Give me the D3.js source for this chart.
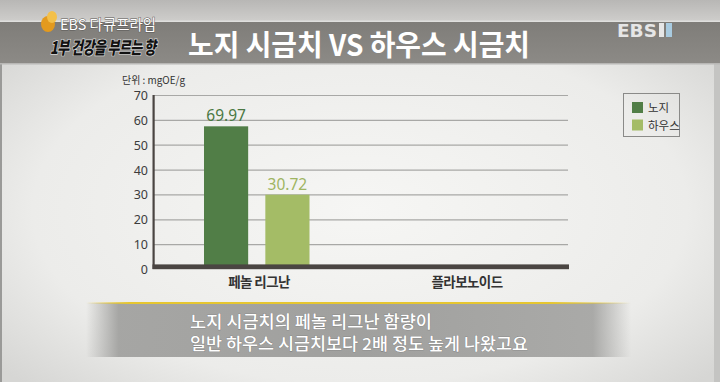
<!DOCTYPE html>
<html><head><meta charset="utf-8">
<script src="https://cdn.jsdelivr.net/npm/d3@7"></script>
<style>body{margin:0;background:#e4e4e2;overflow:hidden}svg{display:block}</style>
</head><body><div id="chart"></div>
<script>
// ---- data ----
const categories = ["페놀 리그난", "플라보노이드"];
const seriesNames = ["노지", "하우스"];
const nojiValues = [57.4, null];     // bar heights as drawn
const houseValues = [29.9, null];
const nojiLabels = ["69.97", ""];
const houseLabels = ["30.72", ""];
const yTicks = [0, 10, 20, 30, 40, 50, 60, 70];
const titleText = "노지 시금치 VS 하우스 시금치";
const unitText = "단위 : mgOE/g";
const subtitleLines = ["노지 시금치의 페놀 리그난 함량이", "일반 하우스 시금치보다 2배 정도 높게 나왔고요"];
const seriesColors = ["#517e47", "#a4bc66"];
const labelColors = ["#4b7843", "#9fb562"];

const W = 720, H = 382;
const svg = d3.select("#chart").append("svg").attr("width", W).attr("height", H);
const defs = svg.append("defs");

// background gradient
const bg = defs.append("radialGradient").attr("id", "bg").attr("cx", "0.5").attr("cy", "0.55").attr("r", "0.65");
bg.append("stop").attr("offset", "0").attr("stop-color", "#f6f6f4");
bg.append("stop").attr("offset", "0.7").attr("stop-color", "#ececea");
bg.append("stop").attr("offset", "1").attr("stop-color", "#d6d6d4");
svg.append("rect").attr("width", W).attr("height", H).attr("fill", "url(#bg)");
svg.append("rect").attr("x", 0).attr("y", 0).attr("width", 2).attr("height", H).attr("fill", "#9a9a98");
svg.append("rect").attr("x", 714).attr("y", 0).attr("width", 6).attr("height", H).attr("fill", "#c4c4c2");

// top strip
const topG = defs.append("linearGradient").attr("id", "topg").attr("x1", 0).attr("x2", 0).attr("y1", 0).attr("y2", 1);
topG.append("stop").attr("offset", 0).attr("stop-color", "#b8b7b5");
topG.append("stop").attr("offset", 1).attr("stop-color", "#cfcecc");
svg.append("rect").attr("x", 0).attr("y", 0).attr("width", W).attr("height", 22).attr("fill", "url(#topg)");
svg.append("rect").attr("x", 0).attr("y", 20.5).attr("width", W).attr("height", 1.5).attr("fill", "#e0e0de");

// title band
const band = defs.append("linearGradient").attr("id", "band").attr("x1", 0).attr("x2", 0).attr("y1", 0).attr("y2", 1);
band.append("stop").attr("offset", 0).attr("stop-color", "#7f7d79");
band.append("stop").attr("offset", 1).attr("stop-color", "#8c8a86");
svg.append("rect").attr("x", 0).attr("y", 22).attr("width", W).attr("height", 41).attr("fill", "url(#band)");
svg.append("rect").attr("x", 0).attr("y", 63).attr("width", W).attr("height", 1.5).attr("fill", "#b8b7b5");

svg.append("text").attr("x", 188).attr("y", 56)
  .attr("font-family", "'Noto Sans CJK KR', sans-serif").attr("font-weight", 700)
  .attr("font-size", 29).attr("fill", "#ffffff")
  .attr("textLength", 342).attr("lengthAdjust", "spacingAndGlyphs")
  .text(titleText);

// program logo (top-left)
svg.append("ellipse").attr("cx", 48).attr("cy", 24).attr("rx", 7).attr("ry", 8).attr("fill", "#e39a1e");
svg.append("ellipse").attr("cx", 52).attr("cy", 17).attr("rx", 5).attr("ry", 6).attr("fill", "#f3c04a");
svg.append("text").attr("x", 60).attr("y", 30)
  .attr("font-family", "'Noto Sans CJK KR', sans-serif").attr("font-size", 14.5)
  .attr("fill", "#ffffff").attr("stroke", "#5a5856").attr("stroke-width", 0.9).attr("paint-order", "stroke")
  .attr("textLength", 96).attr("lengthAdjust", "spacingAndGlyphs")
  .text("EBS 다큐프라임");
svg.append("text").attr("transform", "translate(50,54) scale(1,1.35)")
  .attr("font-family", "'Noto Sans CJK KR', sans-serif").attr("font-weight", 900).attr("font-style", "italic")
  .attr("font-size", 13).attr("letter-spacing", -0.6).attr("fill", "#121212")
  .attr("stroke", "#d8d8d8").attr("stroke-width", 1).attr("paint-order", "stroke")
  .text("1부 건강을 부르는 향");

// channel logo (top-right)
svg.append("text").attr("x", 617).attr("y", 37)
  .attr("font-family", "'DejaVu Sans', sans-serif").attr("font-weight", 700)
  .attr("font-size", 18).attr("fill", "#e6e6e6")
  .attr("textLength", 40).attr("lengthAdjust", "spacingAndGlyphs").text("EBS");
svg.append("rect").attr("x", 659).attr("y", 23).attr("width", 5).attr("height", 14).attr("fill", "#e6e6e6");
svg.append("rect").attr("x", 666).attr("y", 23).attr("width", 6).attr("height", 14).attr("fill", "#a9cbe0");

// ---- chart ----
const plotL = 153, plotR = 569, plotTop = 95, plotBottom = 269;
const y = d3.scaleLinear().domain([0, 70]).range([plotBottom, plotTop]);
const x = d3.scaleBand().domain(categories).range([plotL, plotR]).paddingInner(0).paddingOuter(0);
const xs = d3.scaleBand().domain(seriesNames).range([51, 156.5]).paddingInner(0.28);

// gridlines
const grid = svg.append("g").attr("transform", `translate(${plotL},0)`)
  .call(d3.axisLeft(y).tickValues(yTicks.filter(d => d > 0)).tickSize(-(plotR - plotL - 1)).tickFormat(""));
grid.select(".domain").remove();
grid.selectAll("line").attr("stroke", "#a8a8a6").attr("stroke-width", 1.2);

// y tick labels
const yAxis = svg.append("g").attr("transform", `translate(${plotL},0)`)
  .call(d3.axisLeft(y).tickValues(yTicks).tickSize(0).tickPadding(5));
yAxis.select(".domain").remove();
yAxis.selectAll("text").attr("font-family", "'Noto Sans', sans-serif").attr("font-size", 12.5)
  .attr("fill", "#3c3c3c").attr("dy", "0.36em");

// bars
const seriesValues = [nojiValues, houseValues];
const seriesLabels = [nojiLabels, houseLabels];
seriesNames.forEach((s, si) => {
  const data = categories.map((c, ci) => ({c, v: seriesValues[si][ci], l: seriesLabels[si][ci]})).filter(d => d.v != null);
  svg.append("g").selectAll("rect").data(data).join("rect")
    .attr("x", d => x(d.c) + xs(s)).attr("width", xs.bandwidth())
    .attr("y", d => y(d.v)).attr("height", d => y(0) - y(d.v))
    .attr("fill", seriesColors[si]);
  svg.append("g").selectAll("text").data(data).join("text")
    .attr("x", d => x(d.c) + xs(s) + xs.bandwidth() / 2).attr("y", d => y(d.v) - 5)
    .attr("text-anchor", "middle")
    .attr("font-family", "'Noto Sans', sans-serif").attr("font-size", 15.5)
    .attr("fill", labelColors[si]).text(d => d.l);
});

// axis lines
svg.append("rect").attr("x", plotL - 0.5).attr("y", plotTop).attr("width", 2.2).attr("height", plotBottom - plotTop).attr("fill", "#4a4542");
svg.append("rect").attr("x", plotL - 0.5).attr("y", y(0) - 4.6).attr("width", plotR - plotL + 0.5).attr("height", 4.8).attr("fill", "#4a4542");

// category labels
svg.append("g").selectAll("text").data(categories).join("text")
  .attr("x", d => x(d) + x.bandwidth() / 2 + 2).attr("y", 287)
  .attr("text-anchor", "middle")
  .attr("font-family", "'Noto Sans CJK KR', sans-serif").attr("font-weight", 700)
  .attr("font-size", 13.5).attr("fill", "#333333").attr("letter-spacing", -0.6)
  .text(d => d);

// unit
svg.append("text").attr("x", 122).attr("y", 83.5)
  .attr("font-family", "'Noto Sans CJK KR', sans-serif").attr("font-size", 10.5)
  .attr("fill", "#333").attr("textLength", 63).attr("lengthAdjust", "spacingAndGlyphs")
  .text(unitText);

// legend
const lg = svg.append("g");
lg.append("rect").attr("x", 623.5).attr("y", 93.5).attr("width", 56).attr("height", 43)
  .attr("fill", "none").attr("stroke", "#8a8a88").attr("stroke-width", 1);
seriesNames.forEach((s, i) => {
  lg.append("rect").attr("x", 632).attr("y", 102 + i * 17.5).attr("width", 11).attr("height", 11).attr("fill", seriesColors[i]);
  lg.append("text").attr("x", 648).attr("y", 112 + i * 17.5)
    .attr("font-family", "'Noto Sans CJK KR', sans-serif").attr("font-size", 11.5)
    .attr("fill", "#333").text(s);
});

// subtitle band
const sbH = defs.append("linearGradient").attr("id", "sbh").attr("x1", 0).attr("x2", 1).attr("y1", 0).attr("y2", 0);
sbH.append("stop").attr("offset", 0).attr("stop-color", "#a2a2a0").attr("stop-opacity", 0);
sbH.append("stop").attr("offset", 0.06).attr("stop-color", "#a2a2a0").attr("stop-opacity", 0.95);
sbH.append("stop").attr("offset", 0.5).attr("stop-color", "#a0a09e").attr("stop-opacity", 1);
sbH.append("stop").attr("offset", 0.93).attr("stop-color", "#a6a6a4").attr("stop-opacity", 0.95);
sbH.append("stop").attr("offset", 1).attr("stop-color", "#a6a6a4").attr("stop-opacity", 0);
svg.append("rect").attr("x", 86).attr("y", 303).attr("width", 545).attr("height", 54).attr("fill", "url(#sbh)");
const yl = defs.append("linearGradient").attr("id", "yl").attr("x1", 0).attr("x2", 1).attr("y1", 0).attr("y2", 0);
yl.append("stop").attr("offset", 0).attr("stop-color", "#e6c630").attr("stop-opacity", 0);
yl.append("stop").attr("offset", 0.08).attr("stop-color", "#e6c630").attr("stop-opacity", 1);
yl.append("stop").attr("offset", 0.85).attr("stop-color", "#e6c630").attr("stop-opacity", 1);
yl.append("stop").attr("offset", 1).attr("stop-color", "#e6c630").attr("stop-opacity", 0);
svg.append("rect").attr("x", 86).attr("y", 302).attr("width", 545).attr("height", 2).attr("fill", "url(#yl)");

const subW = [242, 338];
svg.append("g").selectAll("text").data(subtitleLines).join("text")
  .attr("x", 190).attr("y", (d, i) => 328 + i * 22)
  .attr("font-family", "'Noto Sans CJK KR', sans-serif").attr("font-size", 16.5).attr("font-weight", 500)
  .attr("fill", "#ffffff").attr("stroke", "#777777").attr("stroke-width", 0.6).attr("paint-order", "stroke")
  .attr("textLength", (d, i) => subW[i]).attr("lengthAdjust", "spacingAndGlyphs")
  .text(d => d);
</script>
</body></html>
